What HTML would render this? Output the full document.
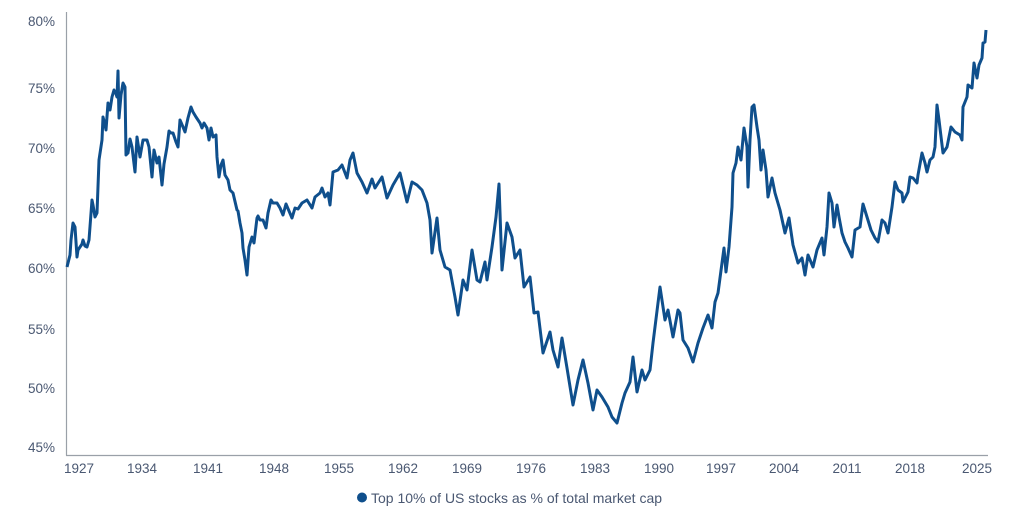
<!DOCTYPE html>
<html><head><meta charset="utf-8"><style>
html,body{margin:0;padding:0;background:#fff;}
svg{display:block;}
text{font-family:"Liberation Sans",sans-serif;fill:#4a5872;font-size:13.5px;}
</style></head><body>
<svg width="1024" height="522" viewBox="0 0 1024 522" xmlns="http://www.w3.org/2000/svg">
<line x1="66.5" y1="12" x2="66.5" y2="455.5" stroke="#9aa0a8" stroke-width="1.2"/>
<line x1="66" y1="455.5" x2="988" y2="455.5" stroke="#9aa0a8" stroke-width="1.2"/>
<g text-anchor="end">
<text x="55" y="26">80%</text>
<text x="55" y="93">75%</text>
<text x="55" y="153">70%</text>
<text x="55" y="213">65%</text>
<text x="55" y="273">60%</text>
<text x="55" y="334">55%</text>
<text x="55" y="393">50%</text>
<text x="55" y="452">45%</text>
</g>
<g text-anchor="middle">
<text x="79" y="473">1927</text><text x="142" y="473">1934</text><text x="208" y="473">1941</text>
<text x="274" y="473">1948</text><text x="339" y="473">1955</text><text x="403" y="473">1962</text>
<text x="467" y="473">1969</text><text x="531" y="473">1976</text><text x="595" y="473">1983</text>
<text x="659" y="473">1990</text><text x="721" y="473">1997</text><text x="784" y="473">2004</text>
<text x="847" y="473">2011</text><text x="910" y="473">2018</text><text x="977" y="473">2025</text>
</g>
<polyline fill="none" stroke="#0f4f8c" stroke-width="3" stroke-linejoin="round" points="
67,267 68,263 70,255 71,240 73,223 75,227 77,257 78,250 80,247 82,244 83,240 85,246 87,247 89,240 92,200 93,205 95,217 97,213 99,160 102,140 103,117 105,125 106,130 108,103 110,110 112,97 114,90 116,94 117,97 118,71 119,118 121,95 123,83 125,87 126,155 128,153 130,139 132,147 135,172 137,137 140,157 143,140 147,140 149,147 152,177 154,150 157,163 159,157 162,185 164,164 167,147 169,131 171,133 173,133 176,142 178,147 180,120 183,127 185,132 188,118 191,107 193,112 196,117 200,123 202,128 204,123 207,128 209,140 211,128 213,137 216,135 217,157 219,177 221,165 223,160 225,175 228,180 230,190 233,193 237,210 238,211 240,223 242,233 243,248 245,260 247,275 249,247 252,237 254,243 257,218 258,216 260,220 263,220 266,228 268,213 271,200 273,203 277,203 280,208 283,215 286,204 289,211 292,218 295,208 298,209 302,203 307,200 312,208 315,197 320,193 322,188 325,197 328,193 330,205 333,172 338,170 342,165 347,178 350,160 353,153 357,173 362,182 367,193 372,179 375,188 382,177 387,198 393,185 400,173 407,202 412,182 417,185 422,190 427,203 430,220 432,253 437,218 440,250 445,267 450,270 455,297 458,315 463,280 467,290 472,250 477,280 480,282 485,262 487,280 492,247 496,217 499,184 502,270 507,223 512,237 515,258 520,250 524,287 530,277 534,313 538,312 543,353 550,332 553,350 558,367 562,338 567,368 573,405 578,380 583,360 588,383 593,410 597,390 602,397 608,407 612,417 617,423 622,403 625,393 630,382 633,357 637,392 642,370 645,380 650,370 653,343 660,287 665,320 668,310 673,337 678,310 680,313 683,340 688,348 693,362 698,343 703,328 708,315 712,328 715,302 718,293 722,263 724,248 726,272 729,247 732,207 733,173 736,163 738,147 741,160 744,128 747,147 748,187 750,140 752,107 754,105 757,127 759,140 761,170 763,150 766,170 768,197 772,178 775,193 780,210 785,233 789,218 793,245 798,263 802,258 805,275 808,255 813,267 817,250 822,238 824,255 827,227 829,193 832,203 834,227 837,205 839,217 842,233 845,242 848,248 852,257 855,230 860,227 863,204 867,217 871,230 875,238 878,242 882,220 885,223 888,233 892,207 895,182 898,190 902,193 903,202 908,192 910,177 913,178 917,183 918,175 922,153 925,163 927,172 930,160 933,157 935,147 937,105 939,120 943,153 947,147 951,127 955,132 960,135 962,140 963,107 967,97 968,85 972,88 974,63 977,78 979,65 982,58 983,43 985,42 986,30"/>
<circle cx="362" cy="497.5" r="5" fill="#0f4f8c"/>
<text x="371" y="503" style="font-size:14px">Top 10% of US stocks as % of total market cap</text>
</svg>
</body></html>
